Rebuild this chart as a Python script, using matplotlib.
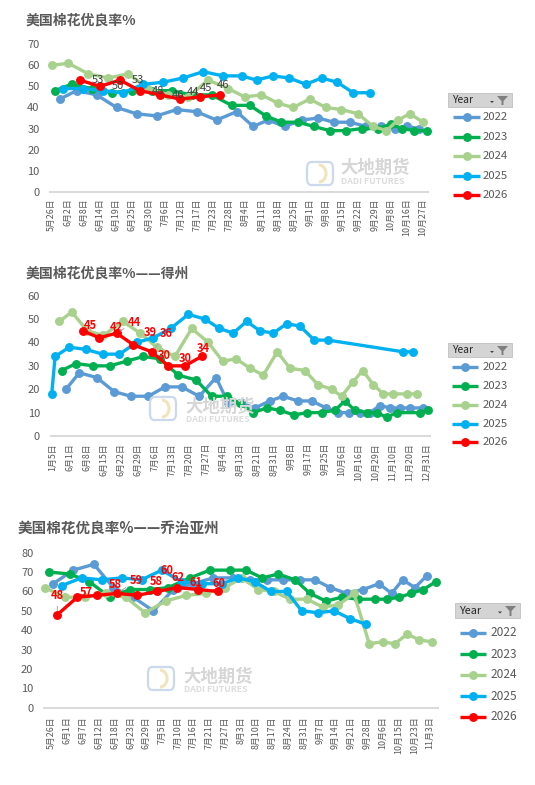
import matplotlib
matplotlib.use('Agg')
import matplotlib.pyplot as plt
from matplotlib.lines import Line2D
from matplotlib.patches import Rectangle, Polygon, FancyBboxPatch, Arc

plt.rcParams['font.family'] = ['Noto Sans CJK SC', 'DejaVu Sans']

W, H = 535, 785
years = ['2022', '2023', '2024', '2025', '2026']
colors = ['#5B9BD5', '#00B050', '#A9D18E', '#00B0F0', '#FF0000']

# ---------------- Panel 1 : 美国 ----------------
p1_title = '美国棉花优良率%'
p1_ticks = ['5月26日', '6月2日', '6月8日', '6月14日', '6月19日', '6月25日', '6月30日', '7月6日',
            '7月12日', '7月17日', '7月23日', '7月28日', '8月4日', '8月11日', '8月18日', '8月25日',
            '9月1日', '9月8日', '9月15日', '9月22日', '9月29日', '10月8日', '10月16日', '10月27日']
p1_x2022 = [0.51, 1.55, 2.78, 4.02, 5.26, 6.50, 7.74, 8.97, 10.21, 11.45, 12.48, 13.40, 14.44, 15.47,
            16.50, 17.47, 18.46, 19.49, 20.42, 21.24, 21.97, 22.75]
p1_y2022 = [44, 48, 46, 40, 37, 36, 39, 38, 34, 38, 31, 34, 31, 34, 35, 33, 33, 31, 31, 30, 31, 30]
p1_x2023 = [0.20, 1.24, 2.48, 3.71, 4.95, 6.19, 7.43, 8.66, 9.90, 11.14, 12.27, 13.26, 14.23, 15.26,
            16.23, 17.22, 18.24, 19.20, 20.21, 21.00, 21.72, 22.45, 23.22]
p1_y2023 = [48, 51, 49, 47, 48, 48, 48, 46, 46, 41, 41, 36, 33, 33, 31, 29, 29, 30, 30, 32, 30, 29, 29]
p1_x2024 = [0, 1.03, 2.27, 3.50, 4.74, 5.98, 7.21, 8.45, 9.69, 10.93, 11.96, 12.99, 14.02, 14.95,
            15.98, 16.97, 17.94, 18.97, 19.90, 20.73, 21.44, 22.17, 23.0]
p1_y2024 = [60, 61, 56, 54, 56, 49, 46, 45, 53, 49, 45, 46, 42, 40, 44, 40, 39, 37, 31, 29, 34, 37, 33]
p1_x2025 = [0.72, 1.96, 3.19, 4.43, 5.67, 6.91, 8.14, 9.38, 10.62, 11.76, 12.69, 13.71, 14.70, 15.74,
            16.71, 17.67, 18.67, 19.70]
p1_y2025 = [49, 49, 48, 47, 51, 52, 54, 57, 55, 55, 53, 55, 54, 51, 54, 52, 47, 47]
p1_x2026 = [1.75, 2.99, 4.23, 5.46, 6.70, 7.94, 9.18, 10.41]
p1_y2026 = [53, 50, 53, 48, 46, 44, 45, 46]

# ---------------- Panel 2 : 得州 ----------------
p2_title = '美国棉花优良率%——得州'
p2_ticks = ['1月5日', '6月1日', '6月8日', '6月15日', '6月22日', '6月29日', '7月6日', '7月13日',
            '7月20日', '7月27日', '8月4日', '8月13日', '8月21日', '8月31日', '9月8日', '9月17日',
            '9月25日', '10月6日', '10月16日', '10月29日', '11月10日', '11月20日', '12月31日']
p2_x2022 = [0.78, 1.56, 2.59, 3.61, 4.59, 5.62, 6.61, 7.59, 8.62, 9.61, 10.33, 11.12, 11.90, 12.78,
            13.56, 14.41, 15.24, 16.08, 16.80, 17.45, 18.08, 18.66, 19.25, 19.84, 20.42, 21.01, 21.80]
p2_y2022 = [20, 27, 25, 19, 17, 17, 21, 21, 17, 25, 14, 14, 12, 15, 17, 15, 15, 12, 10, 10, 10, 10,
            13, 12, 12, 12, 12]
p2_x2023 = [0.53, 1.37, 2.39, 3.37, 4.35, 5.33, 6.31, 7.39, 8.43, 9.35, 10.24, 11.02, 11.80, 12.59,
            13.37, 14.19, 14.98, 15.82, 16.61, 17.19, 17.78, 18.47, 19.06, 19.65, 20.24, 21.61, 22.09]
p2_y2023 = [28, 31, 30, 30, 32, 34, 33, 26, 24, 17, 17, 14, 10, 12, 11, 9, 10, 10, 11, 15, 11, 10,
            10, 8, 10, 10, 11]
p2_x2024 = [0.39, 1.12, 2.04, 2.98, 4.12, 5.14, 6.12, 7.19, 8.18, 9.15, 10.00, 10.78, 11.61, 12.39,
            13.21, 13.96, 14.84, 15.59, 16.41, 17.00, 17.65, 18.24, 18.86, 19.45, 20.04, 20.82, 21.45]
p2_y2024 = [49, 53, 45, 43, 49, 44, 38, 34, 46, 40, 32, 33, 29, 26, 36, 29, 28, 22, 20, 17, 23, 28,
            22, 18, 18, 18, 18]
p2_x2025 = [-0.06, 0.14, 0.98, 1.96, 2.94, 3.92, 4.94, 5.92, 6.94, 7.98, 8.96, 9.80, 10.62, 11.41,
            12.19, 12.98, 13.76, 14.55, 15.39, 16.21, 20.62, 21.21]
p2_y2025 = [18, 34, 38, 37, 35, 35, 40, 42, 46, 52, 50, 46, 44, 49, 45, 44, 48, 47, 41, 41, 36, 36]
p2_x2026 = [1.76, 2.74, 3.76, 4.74, 5.82, 6.80, 7.78, 8.76]
p2_y2026 = [45, 42, 44, 39, 36, 30, 30, 34]

# ---------------- Panel 3 : 乔治亚州 ----------------
p3_title = '美国棉花优良率%——乔治亚州'
p3_ticks = ['5月26日', '6月1日', '6月7日', '6月12日', '6月18日', '6月23日', '6月29日', '7月5日',
            '7月10日', '7月16日', '7月21日', '7月27日', '8月3日', '8月10日', '8月17日', '8月24日',
            '8月31日', '9月7日', '9月14日', '9月21日', '9月28日', '10月6日', '10月15日', '10月23日',
            '11月3日']
p3_x2022 = [0.10, 1.37, 2.68, 3.91, 5.18, 6.45, 7.72, 8.98, 10.25, 11.52, 12.58, 13.64, 14.70, 15.76,
            16.71, 17.66, 18.72, 19.77, 20.77, 21.57, 22.27, 23.05, 23.79]
p3_y2022 = [64, 71, 74, 62, 57, 50, 61, 64, 67, 67, 66, 66, 66, 66, 66, 62, 59, 61, 64, 59, 66, 62, 68]
p3_x2023 = [-0.15, 1.16, 2.39, 3.70, 4.97, 6.24, 7.40, 8.77, 10.04, 11.31, 12.33, 13.36, 14.38, 15.44,
            16.39, 17.40, 18.40, 19.45, 20.51, 21.26, 22.06, 22.80, 23.58, 24.37]
p3_y2023 = [70, 69, 65, 57, 61, 61, 62, 67, 71, 71, 71, 67, 69, 66, 59, 55, 57, 56, 56, 56, 57, 59,
            61, 65]
p3_x2024 = [-0.43, 0.84, 2.11, 3.45, 4.71, 5.92, 7.23, 8.52, 9.79, 10.99, 12.06, 13.11, 14.11, 15.12,
            16.18, 17.20, 18.19, 19.18, 20.15, 21.00, 21.78, 22.56, 23.32, 24.11]
p3_y2024 = [62, 57, 57, 59, 57, 49, 55, 58, 59, 62, 67, 61, 60, 56, 56, 52, 53, 59, 33, 34, 33, 38,
            35, 34]
p3_x2025 = [0.63, 1.90, 3.17, 4.44, 5.71, 6.98, 8.25, 9.52, 10.79, 11.84, 12.90, 13.90, 14.91, 15.86,
            16.92, 17.91, 18.93, 19.94]
p3_y2025 = [63, 67, 66, 67, 66, 71, 65, 64, 64, 67, 65, 60, 60, 50, 49, 50, 46, 43]
p3_x2026 = [0.36, 1.62, 2.89, 4.16, 5.43, 6.70, 7.97, 9.30, 10.57]
p3_y2026 = [48, 57, 58, 59, 58, 60, 62, 61, 60]

# ---------------- drawing ----------------
fig = plt.figure(figsize=(W / 100, H / 100), dpi=100)
TF = fig.transFigure


def F(x, y):
    return (x / W, 1 - y / H)


def panel(left, right, ytop, ybot, xlim, ymax, ystep, ticks, xs, ys, xpad, ypad):
    ax = fig.add_axes([left / W, 1 - ybot / H, (right - left) / W, (ybot - ytop) / H])
    ax.patch.set_alpha(0)
    for i in range(5):
        ax.plot(xs[i], ys[i], color=colors[i], lw=2.4, marker='o', ms=5.4,
                solid_joinstyle='round', solid_capstyle='round', clip_on=False, zorder=2 + i)
    ax.set_xlim(*xlim)
    ax.set_ylim(0, ymax)
    ax.set_yticks(range(0, ymax + 1, ystep))
    ax.set_xticks(range(len(ticks)))
    ax.set_xticklabels(ticks, rotation=90, fontsize=6.4, color='#595959', va='top')
    ax.tick_params(axis='x', length=0, pad=xpad)
    ax.tick_params(axis='y', length=0, pad=ypad, labelsize=8, labelcolor='#595959')
    for s in ['left', 'right', 'top']:
        ax.spines[s].set_visible(False)
    ax.spines['bottom'].set_color('#D9D9D9')
    ax.spines['bottom'].set_linewidth(1.4)
    return ax


def data_labels(ax, xs, ys, offs, color, weight, leaders=()):
    for i, (x, y) in enumerate(zip(xs, ys)):
        dx, dy = offs[i]
        kw = {}
        if i in leaders:
            kw['arrowprops'] = dict(arrowstyle='-', color='#A6A6A6', lw=0.7, shrinkA=1, shrinkB=3)
        ax.annotate(str(y), (x, y), xytext=(dx, -dy), textcoords='offset pixels',
                    ha='center', va='center', fontsize=8, color=color, fontweight=weight,
                    zorder=10, **kw)


def legend(bx, by, bw, bh, lx0, lx1, tx, ys_e, fs):
    fig.patches.append(Rectangle(F(bx, by + bh), bw / W, bh / H, transform=TF,
                                 facecolor='#D4D4D4', edgecolor='#C0C0C0', lw=0.6))
    fig.text(*F(bx + 4, by + bh / 2), 'Year', transform=TF, fontsize=fs - 0.8,
             color='#262626', va='center', ha='left')
    ax0 = bx + bw - 22
    fig.patches.append(Polygon([F(ax0, by + bh / 2 + 1), F(ax0 + 4, by + bh / 2 + 1),
                                F(ax0 + 2, by + bh / 2 + 3)], closed=True, transform=TF,
                               facecolor='#404040', edgecolor='none'))
    fx = bx + bw - 15
    fig.patches.append(Polygon([F(fx, by + 3), F(fx + 11, by + 3), F(fx + 6.5, by + 8),
                                F(fx + 6.5, by + bh - 2), F(fx + 4.5, by + bh - 2),
                                F(fx + 4.5, by + 8)], closed=True, transform=TF,
                               facecolor='#7F7F7F', edgecolor='none'))
    for i, yr in enumerate(years):
        y = ys_e[i]
        fig.add_artist(Line2D([lx0 / W, lx1 / W], [1 - y / H, 1 - y / H], transform=TF,
                              color=colors[i], lw=2.4, solid_capstyle='butt'))
        fig.add_artist(Line2D([(lx0 + lx1) / 2 / W], [1 - y / H], transform=TF,
                              color=colors[i], marker='o', ms=5.4, lw=0))
        fig.text(*F(tx, y), yr, transform=TF, fontsize=fs, color='#595959',
                 va='center', ha='left')


def watermark(lx, ly, tx, ycn, yen):
    fig.patches.append(FancyBboxPatch(F(lx, ly + 23), 26 / W, 23 / H, transform=TF,
                                      boxstyle='round,pad=0,rounding_size=0.008',
                                      facecolor='none', edgecolor='#CCD9EC', lw=1.6, zorder=0))
    fig.patches.append(Arc(F(lx + 12, ly + 11.5), 14 / W, 17 / H, theta1=-90, theta2=90,
                           transform=TF, color='#F2E4BA', lw=2.2, zorder=0))
    fig.text(*F(tx, ycn), '大地期货', transform=TF, fontsize=12.5, fontweight='bold',
             color='#D6D6D6', va='center', ha='left', zorder=0)
    fig.text(*F(tx + 1, yen), 'DADI FUTURES', transform=TF, fontsize=6.3, fontweight='bold',
             color='#DCDCDC', va='center', ha='left', zorder=0)


# watermarks first (behind)
watermark(307, 162, 340, 168, 182)
watermark(150, 397, 185, 406.5, 420)
watermark(148, 667, 183, 676.5, 690)

# Panel 1
ax1 = panel(50, 428, 44.3, 191.7, (-0.1, 23.3), 70, 10, p1_ticks,
            [p1_x2022, p1_x2023, p1_x2024, p1_x2025, p1_x2026],
            [p1_y2022, p1_y2023, p1_y2024, p1_y2025, p1_y2026], 5, 7.5)
data_labels(ax1, p1_x2026, p1_y2026,
            [(18, 0), (18, 0), (18, 0), (18, 0), (18, 0), (13, -7), (6, -9), (3, -10)],
            '#404040', 'normal')
fig.text(*F(26, 21), p1_title, transform=TF, fontsize=10, fontweight='bold', color='#595959',
         va='center', ha='left')
legend(448, 93, 64, 14, 453, 480, 483, [117, 137, 156, 176, 195], 8.2)

# Panel 2
ax2 = panel(50.7, 430, 295.7, 436, (-0.12, 22.2), 60, 10, p2_ticks,
            [p2_x2022, p2_x2023, p2_x2024, p2_x2025, p2_x2026],
            [p2_y2022, p2_y2023, p2_y2024, p2_y2025, p2_y2026], 5, 7.8)
data_labels(ax2, p2_x2026, p2_y2026,
            [(8, -5), (17, -10), (18, -11), (17, -12), (15, -18), (-4, -10), (0, -7), (2, -8)],
            '#FF0000', 'bold', leaders=(2, 4))
fig.text(*F(26, 274), p2_title, transform=TF, fontsize=10, fontweight='bold', color='#595959',
         va='center', ha='left')
legend(448, 343, 64, 14, 452, 478, 483, [367, 386, 405, 424, 442], 8.2)

# Panel 3
ax3 = panel(43.8, 437.8, 552.7, 707.7, (-0.5, 24.5), 80, 10, p3_ticks,
            [p3_x2022, p3_x2023, p3_x2024, p3_x2025, p3_x2026],
            [p3_y2022, p3_y2023, p3_y2024, p3_y2025, p3_y2026], 6.5, 7.5)
data_labels(ax3, p3_x2026, p3_y2026,
            [(0, -19), (9, -5), (18, -11), (19, -13), (19, -14), (10, -21), (1, -10), (-2, -7), (1, -8)],
            '#FF0000', 'bold', leaders=(0, 3))
fig.text(*F(18, 528), p3_title, transform=TF, fontsize=10.5, fontweight='bold', color='#595959',
         va='center', ha='left')
legend(455, 603, 65, 15, 460, 486, 491, [633, 654, 675, 696, 717], 8.6)

fig.savefig('out.png', dpi=100)
